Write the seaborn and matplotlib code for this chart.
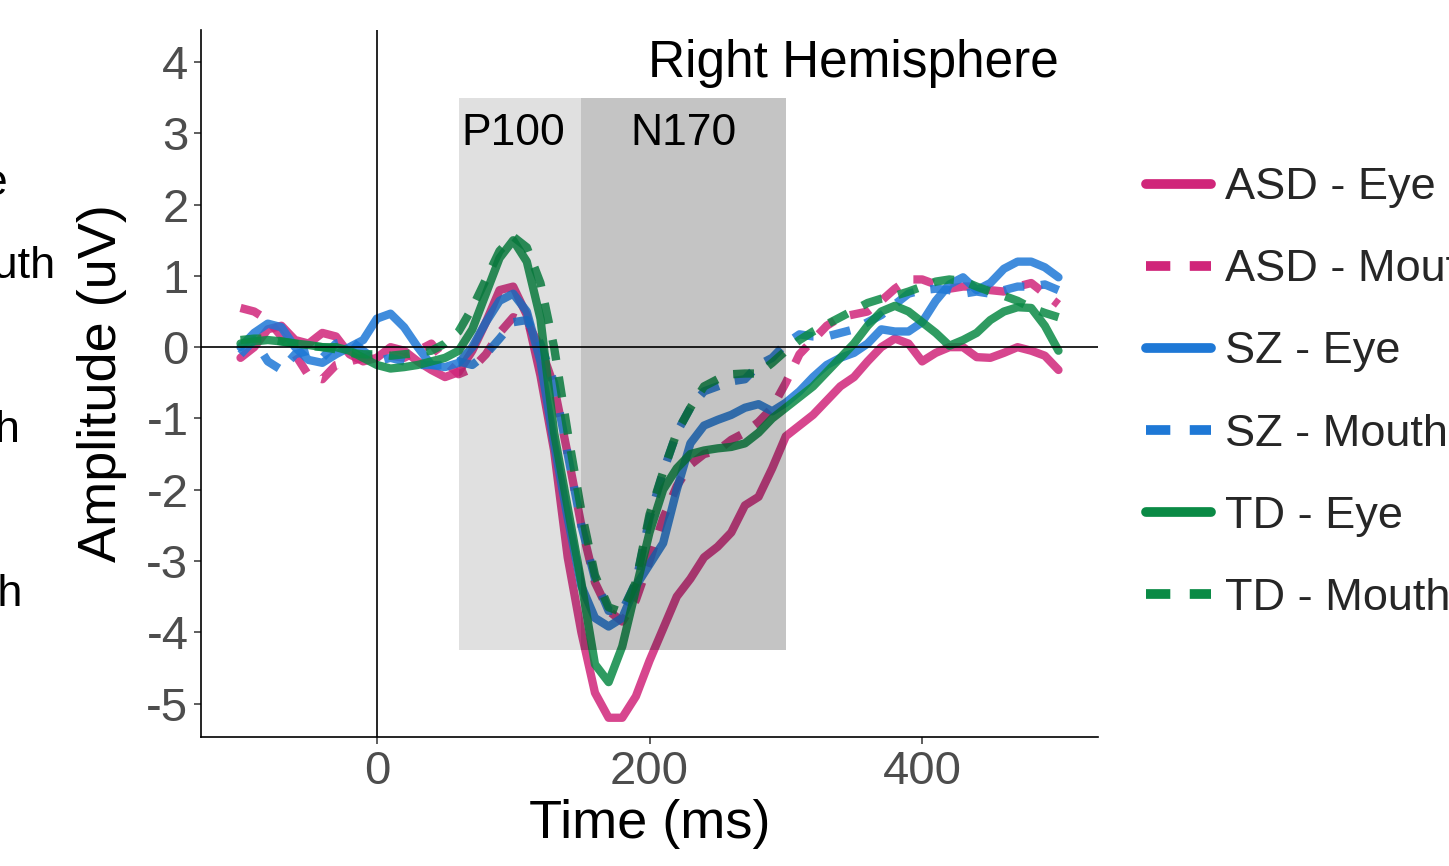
import matplotlib
matplotlib.use("Agg")
import matplotlib.pyplot as plt
from matplotlib.patches import Rectangle
import numpy as np
import pandas as pd
import seaborn as sns

# ---------------- data ----------------
time_ms = list(range(-100, 501, 10))

asd_eye = [-0.15, 0.0, 0.25, 0.3, 0.1, 0.05, 0.2, 0.15, -0.1, -0.2,
           -0.15, 0.0, -0.05, -0.2, -0.32, -0.42, -0.35, -0.05, 0.35, 0.8,
           0.85, 0.45, -0.4, -1.45, -2.95, -4.0, -4.85, -5.2, -5.2, -4.9,
           -4.4, -3.95, -3.5, -3.25, -2.95, -2.8, -2.6, -2.22, -2.1, -1.7,
           -1.25, -1.1, -0.95, -0.75, -0.55, -0.42, -0.2, 0.0, 0.12, 0.05,
           -0.2, -0.08, 0.0, 0.0, -0.14, -0.15, -0.08, 0.0, -0.05, -0.12,
           -0.32]
asd_mouth = [0.55, 0.5, 0.38, 0.15, -0.1, -0.4, -0.45, -0.25, -0.2, -0.15,
             -0.1, -0.12, -0.15, -0.05, 0.05, -0.2, -0.38, -0.3, -0.1, 0.2,
             0.42, 0.35, 0.0, -0.55, -1.5, -2.5, -3.3, -3.7, -3.85, -3.55,
             -3.0, -2.4, -1.95, -1.65, -1.5, -1.45, -1.3, -1.2, -1.05, -0.85,
             -0.5, -0.1, 0.1, 0.3, 0.42, 0.46, 0.5, 0.65, 0.82, 0.95,
             0.95, 0.88, 0.82, 0.85, 0.85, 0.8, 0.78, 0.85, 0.9, 0.75,
             0.6]
sz_eye = [0.0, 0.2, 0.33, 0.28, 0.0, -0.18, -0.22, -0.1, 0.0, 0.1,
          0.4, 0.47, 0.28, 0.0, -0.25, -0.28, -0.22, 0.0, 0.35, 0.65,
          0.75, 0.5, -0.2, -1.35, -2.4, -3.35, -3.8, -3.92, -3.8, -3.35,
          -3.05, -2.75, -2.0, -1.35, -1.1, -1.02, -0.95, -0.85, -0.8, -0.9,
          -0.78, -0.62, -0.42, -0.25, -0.15, -0.08, 0.05, 0.25, 0.22, 0.22,
          0.35, 0.65, 0.88, 0.98, 0.8, 0.9, 1.1, 1.2, 1.2, 1.12,
          0.98]
sz_mouth = [-0.1, 0.1, -0.2, -0.32, -0.1, -0.05, -0.15, 0.05, 0.1, -0.05,
            -0.2, -0.15, -0.2, -0.25, -0.25, -0.25, -0.2, -0.25, -0.1, 0.12,
            0.35, 0.38, 0.05, -0.5, -1.5, -2.5, -3.25, -3.7, -3.7, -3.3,
            -2.4, -1.75, -1.2, -0.85, -0.62, -0.55, -0.48, -0.45, -0.25, -0.15,
            0.05, 0.18, 0.15, 0.15, 0.2, 0.25, 0.35, 0.45, 0.6, 0.75,
            0.8, 0.82, 0.8, 0.75, 0.78, 0.75, 0.8, 0.85, 0.85, 0.88,
            0.8]
td_eye = [0.05, 0.08, 0.1, 0.08, 0.05, 0.03, 0.0, 0.0, -0.05, -0.15,
          -0.25, -0.3, -0.28, -0.25, -0.2, -0.15, -0.05, 0.25, 0.75, 1.25,
          1.5, 1.2, 0.4, -1.2, -2.25, -3.3, -4.45, -4.7, -4.2, -3.4,
          -2.6, -2.0, -1.7, -1.5, -1.45, -1.42, -1.4, -1.35, -1.2, -1.0,
          -0.85, -0.7, -0.55, -0.35, -0.15, 0.05, 0.3, 0.5, 0.58, 0.5,
          0.35, 0.2, 0.02, 0.1, 0.2, 0.38, 0.5, 0.56, 0.55, 0.3,
          -0.05]
td_mouth = [0.1, 0.12, 0.12, 0.08, 0.05, 0.02, 0.0, -0.03, -0.08, -0.1,
            -0.1, -0.12, -0.1, -0.08, -0.05, 0.05, 0.22, 0.55, 0.95, 1.35,
            1.55, 1.4, 0.9, 0.0, -1.2, -2.3, -3.2, -3.65, -3.72, -3.3,
            -2.35, -1.75, -1.2, -0.85, -0.55, -0.45, -0.38, -0.37, -0.37, -0.22,
            -0.05, 0.1, 0.22, 0.32, 0.42, 0.52, 0.62, 0.68, 0.72, 0.78,
            0.85, 0.92, 0.95, 0.93, 0.85, 0.78, 0.72, 0.65, 0.55, 0.48,
            0.42]

labels = ["ASD - Eye", "ASD - Mouth", "SZ - Eye", "SZ - Mouth", "TD - Eye", "TD - Mouth"]
series = [asd_eye, asd_mouth, sz_eye, sz_mouth, td_eye, td_mouth]

windows = ["P100", "N170"]
window_start = [60, 150]
window_end = [150, 300]
window_low, window_high = -4.25, 3.5
window_label_x = [100, 225]
window_label_y = 3.0

x_ticks = [0, 200, 400]
y_ticks = [-5, -4, -3, -2, -1, 0, 1, 2, 3, 4]

# ---------------- style ----------------
pink, blue, green = "#D0267A", "#1E78D6", "#0A8A45"
palette = {"ASD - Eye": pink, "ASD - Mouth": pink,
           "SZ - Eye": blue, "SZ - Mouth": blue,
           "TD - Eye": green, "TD - Mouth": green}
dashes = {"ASD - Eye": "", "ASD - Mouth": (2.5, 2.0),
          "SZ - Eye": "", "SZ - Mouth": (2.5, 2.0),
          "TD - Eye": "", "TD - Mouth": (2.5, 2.0)}

sns.set_theme(style="ticks")
plt.rcParams["font.family"] = ["Liberation Sans", "DejaVu Sans"]

W, H = 1449, 866
fig = plt.figure(figsize=(W / 100, H / 100), dpi=100)
ax = fig.add_axes([201 / W, 129 / H, 897 / W, 707 / H])

df = pd.concat([pd.DataFrame({"time": time_ms, "amp": vals, "label": lab})
                for lab, vals in zip(labels, series)], ignore_index=True)

sns.lineplot(data=df, x="time", y="amp", hue="label", style="label",
             hue_order=labels, style_order=labels, palette=palette,
             dashes=dashes, linewidth=6, alpha=0.85, ax=ax, zorder=3)
for ln in ax.get_lines():
    ln.set_solid_joinstyle("round")
    ln.set_dash_joinstyle("round")

for name, s, e, lx in zip(windows, window_start, window_end, window_label_x):
    a = 0.12 if name == "P100" else 0.23
    ax.add_patch(Rectangle((s, window_low), e - s, window_high - window_low,
                           facecolor="black", alpha=a, lw=0, zorder=4))
    ax.text(lx, window_label_y, name, ha="center", va="center",
            fontsize=32, color="black", zorder=6)

ax.axhline(0, color="black", lw=1.2, zorder=5)
ax.axvline(0, color="black", lw=1.2, zorder=5)

ax.text(500, 3.98, "Right Hemisphere", ha="right", va="center",
        fontsize=37, color="black")

ax.set_xlim(-129, 529)
ax.set_ylim(-5.47, 4.45)
ax.set_xticks(x_ticks)
ax.set_yticks(y_ticks)
ax.set_xticklabels([str(v) for v in x_ticks])
ax.set_yticklabels([str(v) for v in y_ticks])
ax.tick_params(labelsize=34, labelcolor="#4D4D4D", color="#333333",
               length=5, width=1.1, pad=4)
ax.set_xlabel("Time (ms)", fontsize=39, color="black", labelpad=4)
ax.set_ylabel("Amplitude (uV)", fontsize=39, color="black", labelpad=14)
for sp in ["top", "right"]:
    ax.spines[sp].set_visible(False)
for sp in ["left", "bottom"]:
    ax.spines[sp].set_color("black")
    ax.spines[sp].set_linewidth(1.2)

sns.move_legend(ax, "center left", bbox_to_anchor=(1146 / W, 1 - 393 / H),
                bbox_transform=fig.transFigure, frameon=False, title=None,
                fontsize=32.5, handlelength=1.45, handletextpad=0.3,
                labelspacing=0.91, borderpad=0, borderaxespad=0)
leg = ax.get_legend()
for h in leg.get_lines():
    h.set_linewidth(7)
    h.set_alpha(1)

# cropped legend of the neighbouring panel (left edge)
row_y = [184, 266, 348, 430, 512, 594]
for lab, yy in zip(labels, row_y):
    fig.text(-203 / W, 1 - yy / H, lab, ha="left", va="center",
             fontsize=32.5, color="black")

fig.savefig("out.png", dpi=100)
